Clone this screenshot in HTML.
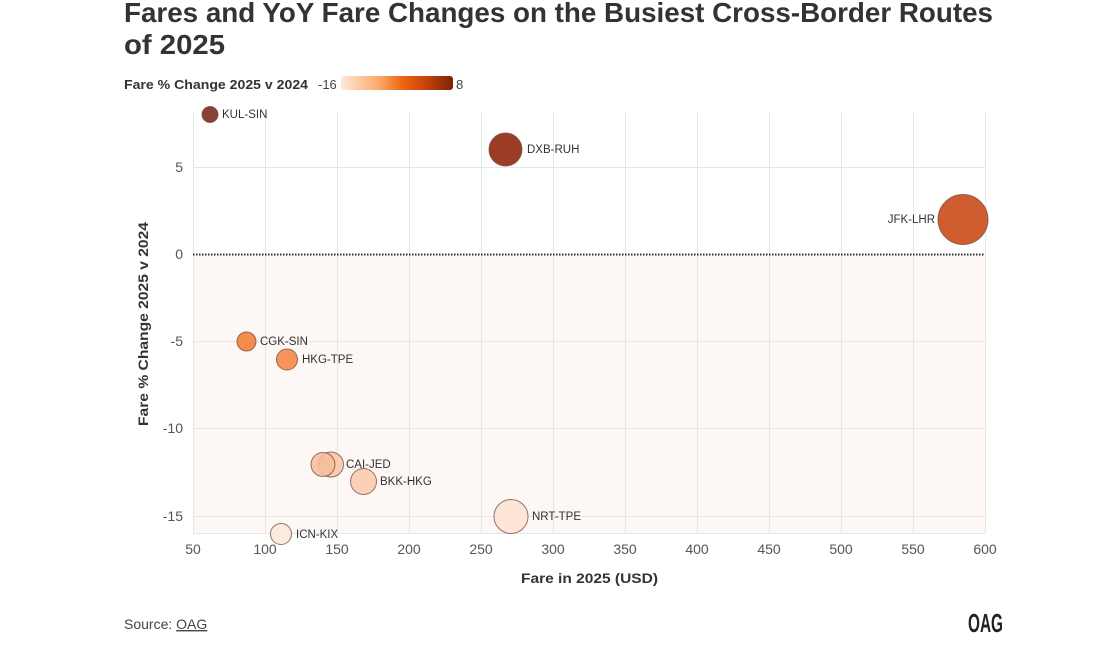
<!DOCTYPE html>
<html><head><meta charset="utf-8"><style>
html,body{margin:0;padding:0;background:#fff;}
svg{display:block;font-family:"Liberation Sans",sans-serif;}
</style></head><body>
<svg width="1100" height="662" viewBox="0 0 1100 662" xmlns="http://www.w3.org/2000/svg">
<defs>
<linearGradient id="g" x1="0" x2="1" y1="0" y2="0">
<stop offset="0" stop-color="#fee9da"/>
<stop offset="0.35" stop-color="#fba566"/>
<stop offset="0.55" stop-color="#ee6512"/>
<stop offset="0.75" stop-color="#c9440a"/>
<stop offset="1" stop-color="#7a2406"/>
</linearGradient>
</defs>
<text x="124" y="22" font-size="28" font-weight="bold" fill="#333" textLength="869" lengthAdjust="spacingAndGlyphs">Fares and YoY Fare Changes on the Busiest Cross-Border Routes</text>
<text x="124" y="54" font-size="28" font-weight="bold" fill="#333" textLength="101" lengthAdjust="spacingAndGlyphs">of 2025</text>
<text x="124" y="89" font-size="13" font-weight="bold" fill="#333" textLength="184" lengthAdjust="spacingAndGlyphs">Fare % Change 2025 v 2024</text>
<text x="318" y="89" font-size="13" fill="#444">-16</text>
<rect x="341" y="76" width="112" height="14" rx="3" fill="url(#g)"/>
<text x="456" y="89" font-size="13" fill="#444">8</text>
<!-- shaded negative region -->
<rect x="193" y="254" width="792" height="279" fill="#fdf7f5"/>
<!-- grid -->
<g stroke="#e9e6e6" stroke-width="1">
<line x1="193.5" y1="113" x2="193.5" y2="533"/>
<line x1="265.5" y1="113" x2="265.5" y2="533"/>
<line x1="337.5" y1="113" x2="337.5" y2="533"/>
<line x1="409.5" y1="113" x2="409.5" y2="533"/>
<line x1="481.5" y1="113" x2="481.5" y2="533"/>
<line x1="553.5" y1="113" x2="553.5" y2="533"/>
<line x1="625.5" y1="113" x2="625.5" y2="533"/>
<line x1="697.5" y1="113" x2="697.5" y2="533"/>
<line x1="769.5" y1="113" x2="769.5" y2="533"/>
<line x1="841.5" y1="113" x2="841.5" y2="533"/>
<line x1="913.5" y1="113" x2="913.5" y2="533"/>
<line x1="985.5" y1="113" x2="985.5" y2="533"/>
<line x1="193" y1="167.5" x2="985" y2="167.5"/>
<line x1="193" y1="341.5" x2="985" y2="341.5"/>
<line x1="193" y1="428.5" x2="985" y2="428.5"/>
<line x1="193" y1="516.5" x2="985" y2="516.5"/>
<line x1="193" y1="533.5" x2="985" y2="533.5"/>
</g>
<line x1="193" y1="254.5" x2="985" y2="254.5" stroke="#333" stroke-width="2" stroke-dasharray="1.5,1.5"/>
<!-- y ticks -->
<g font-size="14" fill="#555" text-anchor="end">
<text x="183" y="172">5</text>
<text x="183" y="259">0</text>
<text x="183" y="346">-5</text>
<text x="183" y="433">-10</text>
<text x="183" y="521">-15</text>
</g>
<!-- x ticks -->
<g font-size="14" fill="#555" text-anchor="middle">
<text x="193" y="554">50</text>
<text x="265" y="554">100</text>
<text x="337" y="554">150</text>
<text x="409" y="554">200</text>
<text x="481" y="554">250</text>
<text x="553" y="554">300</text>
<text x="625" y="554">350</text>
<text x="697" y="554">400</text>
<text x="769" y="554">450</text>
<text x="841" y="554">500</text>
<text x="913" y="554">550</text>
<text x="985" y="554">600</text>
</g>
<text x="521" y="583" font-size="14" font-weight="bold" fill="#333" textLength="137" lengthAdjust="spacingAndGlyphs">Fare in 2025 (USD)</text>
<text transform="translate(148,426) rotate(-90)" font-size="14" font-weight="bold" fill="#333" textLength="204" lengthAdjust="spacingAndGlyphs">Fare % Change 2025 v 2024</text>
<!-- bubbles -->
<g stroke="#6e4a40" stroke-opacity="0.75" stroke-width="1">
<circle cx="963" cy="219.5" r="25" fill="#d05d30"/>
<circle cx="505.5" cy="149.5" r="16.5" fill="#9c3b26"/>
<circle cx="210" cy="114.5" r="8" fill="#8b4036"/>
<circle cx="511" cy="516.5" r="17" fill="#fde5d7"/>
<circle cx="363.5" cy="481.5" r="13" fill="#fbd0b6"/>
<circle cx="331" cy="464.5" r="12.5" fill="#f9c6a8" fill-opacity="0.9"/>
<circle cx="323" cy="464.5" r="12" fill="#f7bc9a" fill-opacity="0.85"/>
<circle cx="281" cy="534" r="10.5" fill="#fdeadf"/>
<circle cx="246.5" cy="341.5" r="9.5" fill="#f48c4e"/>
<circle cx="287" cy="359.5" r="10.5" fill="#f69459"/>
</g>
<!-- labels -->
<g font-size="11.5" fill="#333">
<text x="222" y="118">KUL-SIN</text>
<text x="527" y="153">DXB-RUH</text>
<text x="935" y="223" text-anchor="end">JFK-LHR</text>
<text x="260" y="345">CGK-SIN</text>
<text x="302" y="363">HKG-TPE</text>
<text x="346" y="468">CAI-JED</text>
<text x="380" y="485">BKK-HKG</text>
<text x="532" y="520">NRT-TPE</text>
<text x="296" y="538">ICN-KIX</text>
</g>
<text x="124" y="629" font-size="14" fill="#444">Source: <tspan text-decoration="underline">OAG</tspan></text>
<text x="968" y="632" font-size="26" font-weight="bold" fill="#222" textLength="35" lengthAdjust="spacingAndGlyphs">OAG</text>
</svg>
</body></html>
